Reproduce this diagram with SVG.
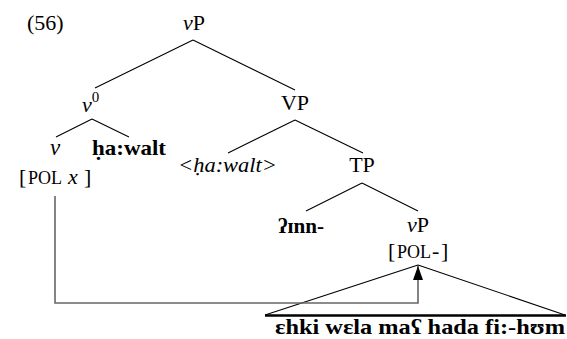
<svg xmlns="http://www.w3.org/2000/svg" width="567" height="339" viewBox="0 0 567 339">
  <style>
    .b { font-weight: bold; }
    .i { font-style: italic; }
    .edge { stroke: #000; stroke-width: 1.1; fill: none; }
    .move { stroke: #666; stroke-width: 1.6; fill: none; }
  </style>
  <defs>
    <marker id="arrow" viewBox="0 0 14 10" refX="14" refY="5" markerWidth="14" markerHeight="10" markerUnits="userSpaceOnUse" orient="auto">
      <path d="M0,0 L14,5 L0,10 Z" fill="#000"/>
    </marker>
  </defs>

  <text x="27" y="30" font-size="22" font-family="Liberation Serif">(56)</text>

  <g id="vP-top">
    <text x="194" y="30" text-anchor="middle" font-size="22" font-family="Liberation Serif"><tspan class="i">v</tspan>P</text>
  </g>
  <g id="v0">
    <text x="82" y="112" font-size="22" font-family="Liberation Serif"><tspan class="i">v</tspan><tspan font-size="15" dy="-10">0</tspan></text>
  </g>
  <g id="VP">
    <text x="295" y="110" text-anchor="middle" font-size="22" font-family="Liberation Serif">VP</text>
  </g>
  <g id="v">
    <text class="i" x="55" y="155" text-anchor="middle" font-size="23" font-family="Liberation Serif">v</text>
    <text y="184" font-size="22" font-family="Liberation Serif"><tspan x="19">[</tspan><tspan x="28" font-size="18">POL</tspan><tspan x="68" class="i">x</tspan><tspan x="84">]</tspan></text>
  </g>
  <g id="hawalt">
    <text class="b" x="92" y="155" font-size="22" font-family="Liberation Serif" textLength="74" lengthAdjust="spacingAndGlyphs">ḥa:walt</text>
  </g>
  <g id="hawalt-copy">
    <text class="i" x="178" y="172" font-size="22" font-family="Liberation Serif" textLength="99" lengthAdjust="spacingAndGlyphs">&lt;ḥa:walt&gt;</text>
  </g>
  <g id="TP">
    <text x="362" y="172" text-anchor="middle" font-size="22" font-family="Liberation Serif">TP</text>
  </g>
  <g id="inn">
    <text class="b" x="278" y="233" font-size="22" font-family="Liberation Serif" textLength="46" lengthAdjust="spacingAndGlyphs">ʔɪnn-</text>
  </g>
  <g id="vP-low">
    <text x="418" y="232" text-anchor="middle" font-size="22" font-family="Liberation Serif"><tspan class="i">v</tspan>P</text>
    <text y="258" font-size="22" font-family="Liberation Serif"><tspan x="388">[</tspan><tspan x="397" font-size="18">POL</tspan><tspan x="432">-</tspan><tspan x="441">]</tspan></text>
  </g>
  <g id="clause">
    <path d="M418,265 L265,315 M418,265 L565,315" class="edge"/>
    <line x1="265" y1="315.5" x2="566" y2="315.5" stroke="#000" stroke-width="2.6"/>
    <text class="b" x="275" y="334" font-size="22" font-family="Liberation Serif" textLength="290" lengthAdjust="spacingAndGlyphs">ɛhki wɛla maʕ hada fi:-hʊm</text>
  </g>

  <g id="connectors">
    <path class="edge" d="M193,40 L95,88 M193,40 L295,90"/>
    <path class="edge" d="M92,119 L56,137 M92,119 L129,137"/>
    <path class="edge" d="M295,120 L228,153 M295,120 L363,153"/>
    <path class="edge" d="M362,183 L306,211 M362,183 L418,211"/>
    <path class="move" d="M55,196 L55,303 L418,303 L418,266" marker-end="url(#arrow)"/>
  </g>
</svg>
